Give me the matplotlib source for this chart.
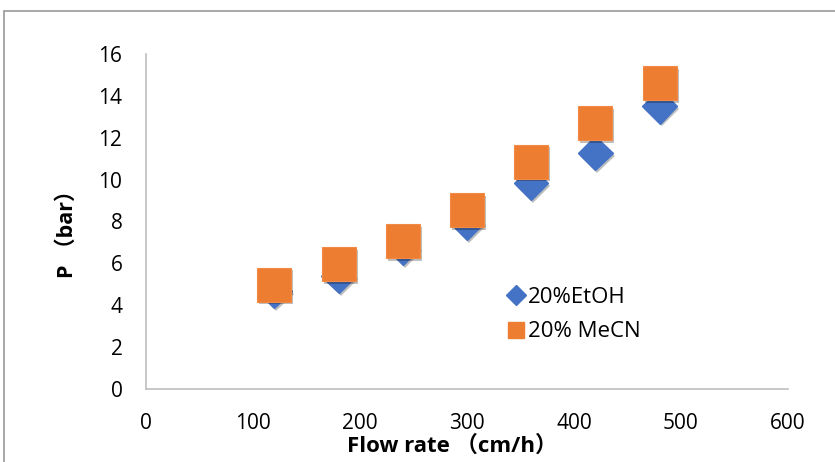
import matplotlib
matplotlib.use('Agg')
from matplotlib import pyplot as plt
from matplotlib.lines import Line2D
from matplotlib.patches import Rectangle
import matplotlib.patheffects as pe

# Data
flow = [120, 180, 240, 300, 360, 420, 480]
etoh = [4.67, 5.41, 6.73, 7.93, 9.84, 11.27, 13.5]
mecn = [4.99, 5.96, 7.06, 8.53, 10.86, 12.70, 14.6]
x_ticks = [0, 100, 200, 300, 400, 500, 600]
y_ticks = [0, 2, 4, 6, 8, 10, 12, 14, 16]

blue = '#4472C4'
orange = '#ED7D31'
grey = '#BFBFBF'
fam = ['Open Sans', 'Noto Sans CJK SC', 'DejaVu Sans']

plt.rcParams['font.family'] = fam

fig = plt.figure(figsize=(8.35, 4.62), dpi=100)
ax = fig.add_axes([146 / 835, 1 - 389 / 462, (788 - 146) / 835, (389 - 54) / 462])

# outer chart frame
fig.patches.append(Rectangle((4 / 835, -0.2), 1.2, 1.2 - 11 / 462, transform=fig.transFigure,
                             fill=False, edgecolor='#999999', linewidth=1.2))

shadow = [pe.SimplePatchShadow(offset=(1.5, -2), shadow_rgbFace='black', alpha=0.25), pe.Normal()]

ax.plot(flow, etoh, linestyle='none', marker='D', markersize=17.5, color=blue,
        markeredgecolor=blue, zorder=3, path_effects=shadow)
ax.plot(flow, mecn, linestyle='none', marker='s', markersize=24.5, color=orange,
        markeredgecolor='#F08A45', markeredgewidth=0.8, zorder=4, path_effects=shadow)

ax.set_xlim(0, 600)
ax.set_ylim(0, 16)
ax.set_xticks(x_ticks)
ax.set_yticks(y_ticks)
ax.tick_params(length=0, labelsize=15, colors='#000000')
ax.tick_params(axis='x', pad=17)
ax.tick_params(axis='y', pad=17)
for s in ['top', 'right']:
    ax.spines[s].set_visible(False)
for s in ['left', 'bottom']:
    ax.spines[s].set_color(grey)
    ax.spines[s].set_linewidth(1.2)

fig.text(452 / 835, 1 - 446 / 462, 'Flow rate （cm/h）', ha='center', va='center',
         fontsize=16, fontweight='bold', family=fam)
fig.text(67 / 835, 1 - 229 / 462, 'P （bar）', ha='center', va='center', rotation=90,
         fontsize=15.5, fontweight='bold', family=fam)

handles = [Line2D([], [], linestyle='none', marker='D', markersize=10, color=blue),
           Line2D([], [], linestyle='none', marker='s', markersize=11, color=orange)]
ax.legend(handles, ['20%EtOH', '20% MeCN'], loc='upper left',
          bbox_to_anchor=(498 / 835, 1 - 276 / 462), bbox_transform=fig.transFigure,
          frameon=False, fontsize=16, handlelength=0.6, handletextpad=0.25,
          labelspacing=0.6, borderpad=0)

fig.savefig('out.png', dpi=100)
